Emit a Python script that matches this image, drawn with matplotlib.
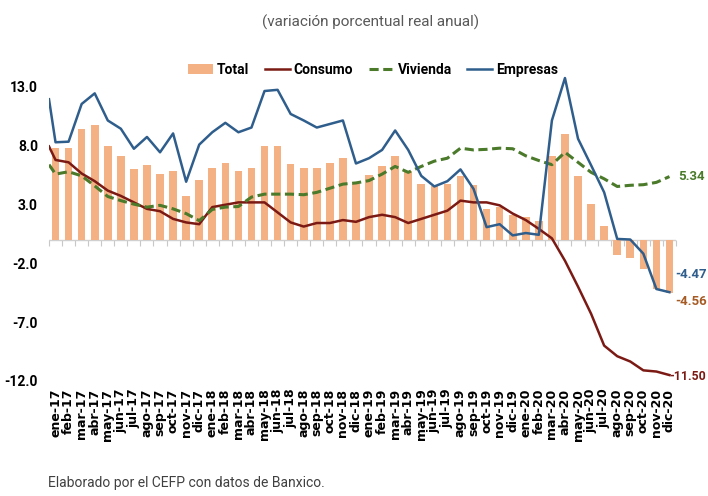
import numpy as np
import matplotlib.pyplot as plt

# etiquetas del eje x (ene-17 ... dic-20)
meses = ['ene-17', 'feb-17', 'mar-17', 'abr-17', 'may-17', 'jun-17', 'jul-17', 'ago-17', 'sep-17', 'oct-17', 'nov-17', 'dic-17',
         'ene-18', 'feb-18', 'mar-18', 'abr-18', 'may-18', 'jun-18', 'jul-18', 'ago-18', 'sep-18', 'oct-18', 'nov-18', 'dic-18',
         'ene-19', 'feb-19', 'mar-19', 'abr-19', 'may-19', 'jun-19', 'jul-19', 'ago-19', 'sep-19', 'oct-19', 'nov-19', 'dic-19',
         'ene-20', 'feb-20', 'mar-20', 'abr-20', 'may-20', 'jun-20', 'jul-20', 'ago-20', 'sep-20', 'oct-20', 'nov-20', 'dic-20']

# barras: Total
total = [7.75, 7.75, 9.35, 9.75, 7.9, 7.1, 6.0, 6.3, 5.55, 5.85, 3.7, 5.05,
         6.05, 6.45, 5.85, 6.05, 7.95, 7.95, 6.4, 6.05, 6.05, 6.5, 6.9, 4.7,
         5.45, 6.2, 7.05, 5.85, 4.75, 4.5, 4.75, 5.4, 4.65, 2.6, 2.75, 2.05,
         1.9, 1.6, 7.1, 8.95, 5.35, 3.0, 1.15, -1.35, -1.6, -2.5, -4.2, -4.56]

# lineas: el primer valor es el punto en el borde izquierdo del eje
consumo = [7.9, 6.75, 6.55, 5.6, 4.95, 4.15, 3.7, 3.15, 2.6, 2.4, 1.75, 1.45, 1.3,
           2.75, 2.95, 3.15, 3.15, 3.15, 2.3, 1.45, 1.1, 1.4, 1.4, 1.65, 1.5,
           1.9, 2.1, 1.9, 1.4, 1.75, 2.1, 2.45, 3.3, 3.15, 3.15, 2.9, 2.2,
           1.65, 0.9, 0.1, -1.8, -4.0, -6.3, -9.0, -9.9, -10.35, -11.1, -11.2, -11.5]
vivienda = [6.35, 5.55, 5.75, 5.4, 4.55, 3.65, 3.3, 3.0, 2.75, 2.9, 2.6, 2.2, 1.6,
            2.55, 2.75, 2.8, 3.6, 3.85, 3.85, 3.85, 3.8, 4.0, 4.35, 4.7, 4.8,
            5.0, 5.55, 6.2, 5.7, 6.2, 6.65, 6.9, 7.75, 7.6, 7.65, 7.75, 7.7,
            7.1, 6.7, 6.35, 7.4, 6.55, 5.7, 5.15, 4.5, 4.6, 4.65, 4.85, 5.34]
empresas = [11.9, 8.25, 8.3, 11.5, 12.4, 10.1, 9.4, 7.7, 8.7, 7.4, 9.0, 4.9, 8.05,
            9.1, 9.9, 9.1, 9.5, 12.6, 12.7, 10.65, 10.1, 9.5, 9.8, 10.1, 6.45,
            6.9, 7.6, 9.25, 7.6, 5.4, 4.5, 4.95, 5.95, 4.3, 1.05, 1.3, 0.35,
            0.55, 0.4, 10.1, 13.7, 8.55, 6.3, 4.0, 0.05, 0.0, -1.2, -4.2, -4.47]

yticks = [-12, -7, -2, 3, 8, 13]

c_total = '#F4B183'
c_cons = '#7B1A14'
c_viv = '#4A7A2A'
c_emp = '#2F5E8C'

plt.rcParams['font.family'] = ['Roboto', 'DejaVu Sans']

fig = plt.figure(figsize=(7.08, 4.96), dpi=100)
ax = fig.add_axes([0.0692, 0.2248, 0.8856, 0.625])

x = np.arange(len(meses))
x_lin = np.concatenate([[-0.5], x])

ax.axhline(0, color='#D0D0D0', lw=1, zorder=1)
b = ax.bar(x, total, width=0.58, color=c_total, label='Total', zorder=2)
l1, = ax.plot(x_lin, consumo, color=c_cons, lw=1.8, label='Consumo', zorder=3)
l2, = ax.plot(x_lin, vivienda, color=c_viv, lw=2.2, ls=(0, (3, 1.5)), label='Vivienda', zorder=3)
l3, = ax.plot(x_lin, empresas, color=c_emp, lw=1.8, label='Empresas', zorder=4)

ymin, ymax = -12.3, 14.0
ax.set_xlim(-0.5, len(meses) - 0.5)
ax.set_ylim(ymin, ymax)
for s in ax.spines.values():
    s.set_visible(False)

ax.set_yticks(yticks)
ax.set_yticklabels([f'{v:.1f}' for v in yticks], fontweight='bold', fontsize=10)
ax.tick_params(axis='y', length=0, pad=8)
ax.set_xticks(x)
ax.set_xticklabels(meses, rotation=90, fontweight='bold', fontsize=9, family='DejaVu Sans')
ax.tick_params(axis='x', length=0, pad=3)

# marcas del eje en el cero
sec = ax.secondary_xaxis((0 - ymin) / (ymax - ymin))
sec.set_xticks(np.arange(-0.5, len(meses), 1))
sec.tick_params(axis='x', bottom=True, top=False, labelbottom=False, labeltop=False,
                length=4, color='#C8C8C8', direction='out')
for s in sec.spines.values():
    s.set_visible(False)

# etiquetas finales
ult = len(meses) - 1
ax.annotate(f'{vivienda[-1]:.2f}', (ult, vivienda[-1]), xytext=(6, 0), textcoords='offset points',
            color=c_viv, fontweight='bold', fontsize=9.5, va='center')
ax.annotate(f'{empresas[-1]:.2f}', (ult, empresas[-1]), xytext=(4, 13), textcoords='offset points',
            color=c_emp, fontweight='bold', fontsize=9.5, va='center')
ax.annotate(f'{total[-1]:.2f}', (ult, total[-1]), xytext=(4, -6), textcoords='offset points',
            color='#A65A24', fontweight='bold', fontsize=9.5, va='center')
ax.annotate(f'{consumo[-1]:.2f}', (ult, consumo[-1]), xytext=(0, -1), textcoords='offset points',
            color=c_cons, fontweight='bold', fontsize=8.8, va='center')

fig.legend(handles=[b, l1, l2, l3], loc='center', bbox_to_anchor=(0.527, 1 - 70 / 496), ncol=4,
           frameon=False, prop={'weight': 'bold', 'size': 10}, handlelength=1.8,
           handletextpad=0.3, columnspacing=1.1)

fig.text(0.523, 1 - 22 / 496, '(variación porcentual real anual)', ha='center', va='center',
         color='#595959', fontsize=11)
fig.text(48 / 708, 1 - 483 / 496, 'Elaborado por el CEFP con datos de Banxico.', ha='left',
         va='center', color='#404040', fontsize=10)

fig.savefig('out.png', dpi=100)
